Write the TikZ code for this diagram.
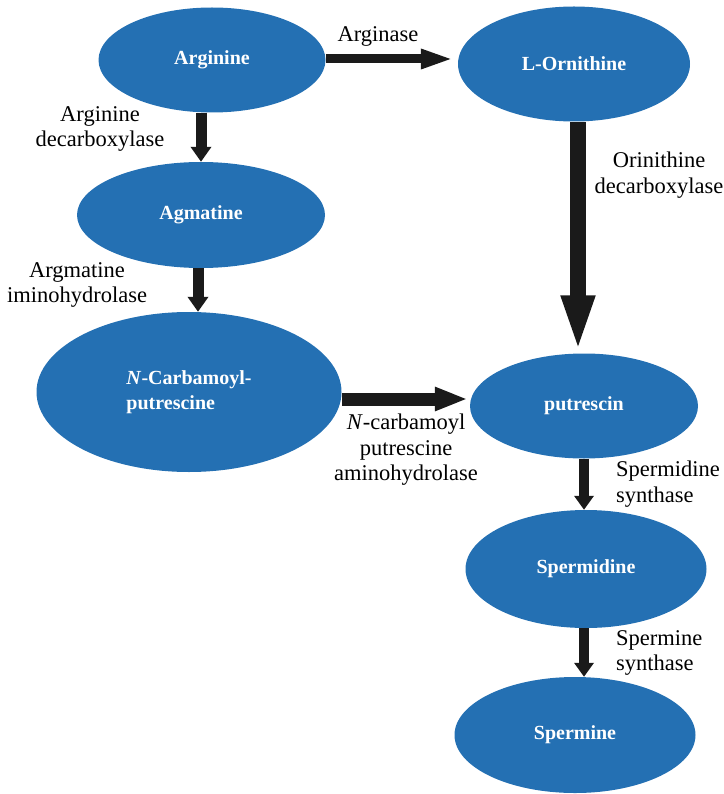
\documentclass[tikz,border=0pt]{standalone}
\usepackage{fontspec}
\setmainfont{Liberation Serif}
\usetikzlibrary{shapes.geometric,arrows.meta}
\definecolor{nodeblue}{RGB}{36,112,179}
\definecolor{arrowblack}{RGB}{26,26,26}
\tikzset{
  chem/.style={ellipse, fill=nodeblue, draw=none, inner sep=0pt, text=white,
    font=\fontsize{20}{25}\selectfont\bfseries, align=center},
  enz/.style={font=\fontsize{22.5}{25.5}\selectfont, text=black, inner sep=0pt},
  fatarrow/.style={draw=arrowblack, line width=#1},
  smallhead/.style={-{Triangle[width=20pt,length=15pt]}},
}
\begin{document}
\begin{tikzpicture}[x=1pt,y=-1pt]
\useasboundingbox (0,0) rectangle (723,794);
% nodes
\node[chem, minimum width=227pt, minimum height=105pt] (arg) at (212,60) {Arginine};
\node[chem, minimum width=232pt, minimum height=115pt] (orn) at (574,64) {L-Ornithine};
\node[chem, minimum width=248pt, minimum height=106pt] (agm) at (201,215) {Agmatine};
\node[chem, minimum width=305pt, minimum height=160pt, align=left] (ncp) at (189,392) {\textit{N}-Carbamoyl-\\putrescine};
\node[chem, minimum width=228pt, minimum height=105pt] (put) at (584,406) {putrescin};
\node[chem, minimum width=241pt, minimum height=118pt] (spd) at (586,569) {Spermidine};
\node[chem, minimum width=241pt, minimum height=116pt] (spm) at (575,735) {Spermine};
% enzyme labels
\node[enz] (l1) at (378,36) {Arginase};
\node[enz, align=center] (l2) at (100,129) {Arginine\\decarboxylase};
\node[enz, align=center] (l3) at (77,285) {Argmatine\\iminohydrolase};
\node[enz, align=center] (l4) at (659,175) {Orinithine\\decarboxylase};
\node[enz, align=center] (l5) at (406,450) {\textit{N}-carbamoyl\\putrescine\\aminohydrolase};
\node[enz, align=left, anchor=west] (l6) at (616,484) {Spermidine\\synthase};
\node[enz, align=left, anchor=west] (l7) at (616,653) {Spermine\\synthase};
% arrows
\draw[fatarrow=9pt, -{Triangle[width=18pt,length=33pt]}, shorten >=4pt]
  ([yshift=1pt]arg.east) -- ([yshift=1pt]orn.west |- arg.east);
\draw[fatarrow=11pt, smallhead]
  (agm.north |- arg.south) -- (agm.north);
\draw[fatarrow=11pt, smallhead]
  ([xshift=-3pt]agm.south) -- ([xshift=-3pt]agm.south |- ncp.north);
\draw[fatarrow=16pt, -{Triangle[width=30pt,length=58pt]}]
  ([xshift=4pt]orn.south) -- ([xshift=4pt]orn.south |- put.north);
\draw[fatarrow=13pt, -{Triangle[width=22pt,length=33pt]}, shorten >=2pt]
  ([yshift=-7pt]ncp.east) -- ([yshift=-7pt]ncp.east -| put.west);
\draw[fatarrow=10pt, -{Triangle[width=19pt,length=14pt]}]
  (put.south) -- (put.south |- spd.north);
\draw[fatarrow=10pt, -{Triangle[width=19pt,length=14pt]}]
  ([xshift=-2pt]spd.south) -- ([xshift=-2pt]spd.south |- spm.north);
\end{tikzpicture}
\end{document}
